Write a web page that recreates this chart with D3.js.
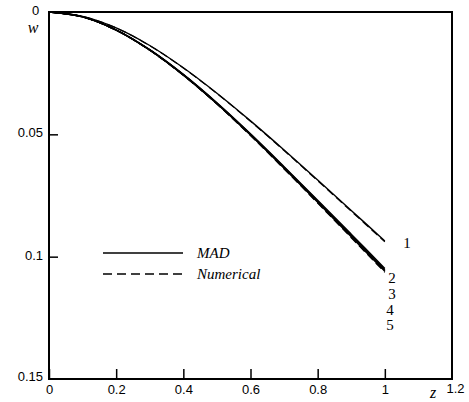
<!DOCTYPE html>
<html>
<head>
<meta charset="utf-8">
<script src="https://cdn.jsdelivr.net/npm/d3@7"></script>
<style>
  body { margin: 0; background: #fff; }
  .tick text { font-family: "Liberation Sans", Arial, sans-serif; font-size: 13px; fill: #000; }
</style>
</head>
<body>
<div id="chart"></div>
<script>
// Data
const zValues = [0, 0.1, 0.2, 0.3, 0.4, 0.5, 0.6, 0.7, 0.8, 0.9, 1.0];
const curve1 = [0, 0.0018, 0.0065, 0.0137, 0.0228, 0.0332, 0.0445, 0.0564, 0.0687, 0.0811, 0.0936];
const curve2 = [0, 0.0019, 0.0073, 0.0154, 0.0255, 0.0371, 0.0498, 0.0632, 0.0769, 0.0908, 0.1048];
const curve3 = [0, 0.0020, 0.0074, 0.0155, 0.0256, 0.0373, 0.0500, 0.0635, 0.0773, 0.0912, 0.1053];
const curve4 = [0, 0.0020, 0.0074, 0.0155, 0.0257, 0.0374, 0.0502, 0.0637, 0.0776, 0.0916, 0.1057];
const curve5 = [0, 0.0020, 0.0074, 0.0156, 0.0258, 0.0375, 0.0503, 0.0639, 0.0778, 0.0919, 0.1060];
const curveNames = ["1", "2", "3", "4", "5"];
const xTicks = [0, 0.2, 0.4, 0.6, 0.8, 1, 1.2];
const yTicks = [0, 0.05, 0.1, 0.15];
const legendNames = ["MAD", "Numerical"];

const width = 469;
const height = 402;
const mLeft = 49, mRight = 452, mTop = 12, mBottom = 379;
const serif = "Liberation Serif, DejaVu Serif, serif";

const svg = d3.select("#chart").append("svg")
    .attr("width", width)
    .attr("height", height);

const x = d3.scaleLinear().domain([0, 1.2]).range([mLeft, mRight]);
const y = d3.scaleLinear().domain([0, 0.15]).range([mTop, mBottom]);

// bottom axis, ticks pointing inward
const xAxis = svg.append("g")
    .attr("transform", `translate(0,${mBottom})`)
    .call(d3.axisBottom(x).tickValues(xTicks).tickSizeInner(-10).tickSizeOuter(0).tickPadding(3)
        .tickFormat(d => d === 0 ? "0" : d3.format("")(d)));
xAxis.select(".domain").remove();
xAxis.selectAll(".tick line").attr("stroke", "#000").attr("stroke-width", 1.5)
    .attr("display", d => d === 1.2 ? "none" : null);
xAxis.selectAll(".tick text")
    .attr("dy", d => d === 1.2 ? "0.85em" : "0.95em")
    .attr("dx", d => d === 1.2 ? 3 : 0);

// left axis
const yAxis = svg.append("g")
    .attr("transform", `translate(${mLeft},0)`)
    .call(d3.axisLeft(y).tickValues(yTicks).tickSizeInner(-9).tickSizeOuter(0).tickPadding(6)
        .tickFormat(d => d === 0 ? "0" : d3.format("")(+d.toFixed(2))));
yAxis.select(".domain").remove();
yAxis.selectAll(".tick line")
    .attr("stroke", "#000").attr("stroke-width", 1.5)
    .attr("display", d => (d === 0 || d === 0.15) ? "none" : null);
yAxis.selectAll(".tick text")
    .attr("dx", d => d === 0 ? "-0.3em" : null)
    .attr("dy", d => d === 0.15 ? "0.1em" : "0.2em");

// frame
svg.append("rect")
    .attr("x", mLeft).attr("y", mTop)
    .attr("width", mRight - mLeft).attr("height", mBottom - mTop)
    .attr("fill", "none").attr("stroke", "#000").attr("stroke-width", 2);

// curves: MAD solid, numerical dashed on top
const series = [curve1, curve2, curve3, curve4, curve5];
const line = d3.line()
    .x((d, i) => x(zValues[i]))
    .y(d => y(d))
    .curve(d3.curveCatmullRom);

const g = svg.append("g");
series.forEach((s, k) => {
    g.append("path")
        .attr("d", line(s))
        .attr("fill", "none").attr("stroke", "#000").attr("stroke-width", 1.4);
    g.append("path")
        .attr("d", line(s.map(v => v * 1.004)))
        .attr("fill", "none").attr("stroke", "#000").attr("stroke-width", 1.2)
        .attr("stroke-dasharray", "8,4");
});

// curve labels
const labelY = [248, 283, 299, 315, 330];
const labelX = [407, 392, 392, 390, 390];
curveNames.forEach((n, i) => {
    svg.append("text")
        .attr("x", labelX[i])
        .attr("y", labelY[i])
        .attr("text-anchor", "middle")
        .style("font-family", serif)
        .style("font-size", "15px")
        .text(n);
});

// axis titles
svg.append("text")
    .attr("x", 33).attr("y", 33)
    .attr("text-anchor", "middle")
    .style("font-family", serif).style("font-size", "16px").style("font-style", "italic")
    .text("w");
svg.append("text")
    .attr("x", 433).attr("y", 398)
    .attr("text-anchor", "middle")
    .style("font-family", serif).style("font-size", "16px").style("font-style", "italic")
    .text("z");

// legend
const legendY = [253, 274];
legendNames.forEach((n, i) => {
    svg.append("line")
        .attr("x1", 103).attr("x2", 183)
        .attr("y1", legendY[i]).attr("y2", legendY[i])
        .attr("stroke", "#000").attr("stroke-width", 1.5)
        .attr("stroke-dasharray", i === 1 ? "9,5" : null);
    svg.append("text")
        .attr("x", 197).attr("y", legendY[i] + 5)
        .style("font-family", serif).style("font-size", "15px").style("font-style", "italic")
        .text(n);
});
</script>
</body>
</html>
